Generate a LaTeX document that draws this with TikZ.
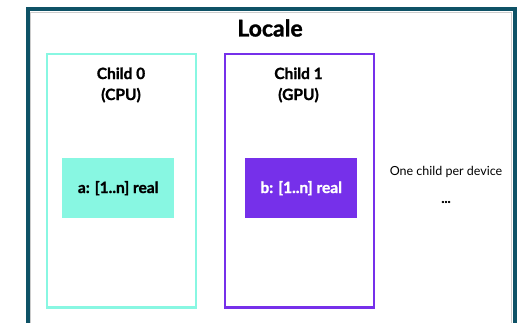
\documentclass[tikz,border=0pt]{standalone}
\usepackage{fontspec}
\setmainfont{Lato}
\newfontfamily\heavy[FakeBold=1.3]{Lato Bold}
\definecolor{frame}{HTML}{0E5266}
\definecolor{cpu}{HTML}{88F7E2}
\definecolor{gpu}{HTML}{7630EA}
\begin{document}
\begin{tikzpicture}[x=1pt,y=-1pt,
  child/.style={draw, line width=2.5pt, minimum width=149pt, minimum height=253pt, anchor=north west, inner sep=0pt},
  arr/.style={minimum width=112pt, minimum height=60pt, anchor=north west, inner sep=0pt, font=\fontsize{15.5}{17}\heavy},
  ttl/.style={font=\fontsize{15.5}{17}\heavy, align=center}]
\useasboundingbox (0,0) rectangle (519,323);
\clip (0,0) rectangle (519,323);
\fill[white] (0,0) rectangle (519,323);
\draw[frame, line width=4pt] (27.5,9) rectangle (514.5,340);
\draw[gray!40, line width=0.8pt] (30.5,12) rectangle (511.5,340);
\node[font=\fontsize{23}{26}\heavy] (loc) at (270,28) {Locale};
\node[child, draw=cpu] (c0) at (45.5,53) {};
\node[child, draw=gpu] (c1) at (223.5,53) {};
\node[ttl] (t0) at (121,85) {Child 0\\[4pt](CPU)};
\node[ttl] (t1) at (298.5,85) {Child 1\\[4pt](GPU)};
\node[arr, fill=cpu] (a) at (62,158) {a: [1..n] real};
\node[arr, fill=gpu, text=white] (b) at (245,158) {b: [1..n] real};
\node[font=\fontsize{12.5}{14}\selectfont] (one) at (446,172) {One child per device};
\node[font=\fontsize{13}{14}\heavy] (dots) at (446,202) {...};
\end{tikzpicture}
\end{document}
